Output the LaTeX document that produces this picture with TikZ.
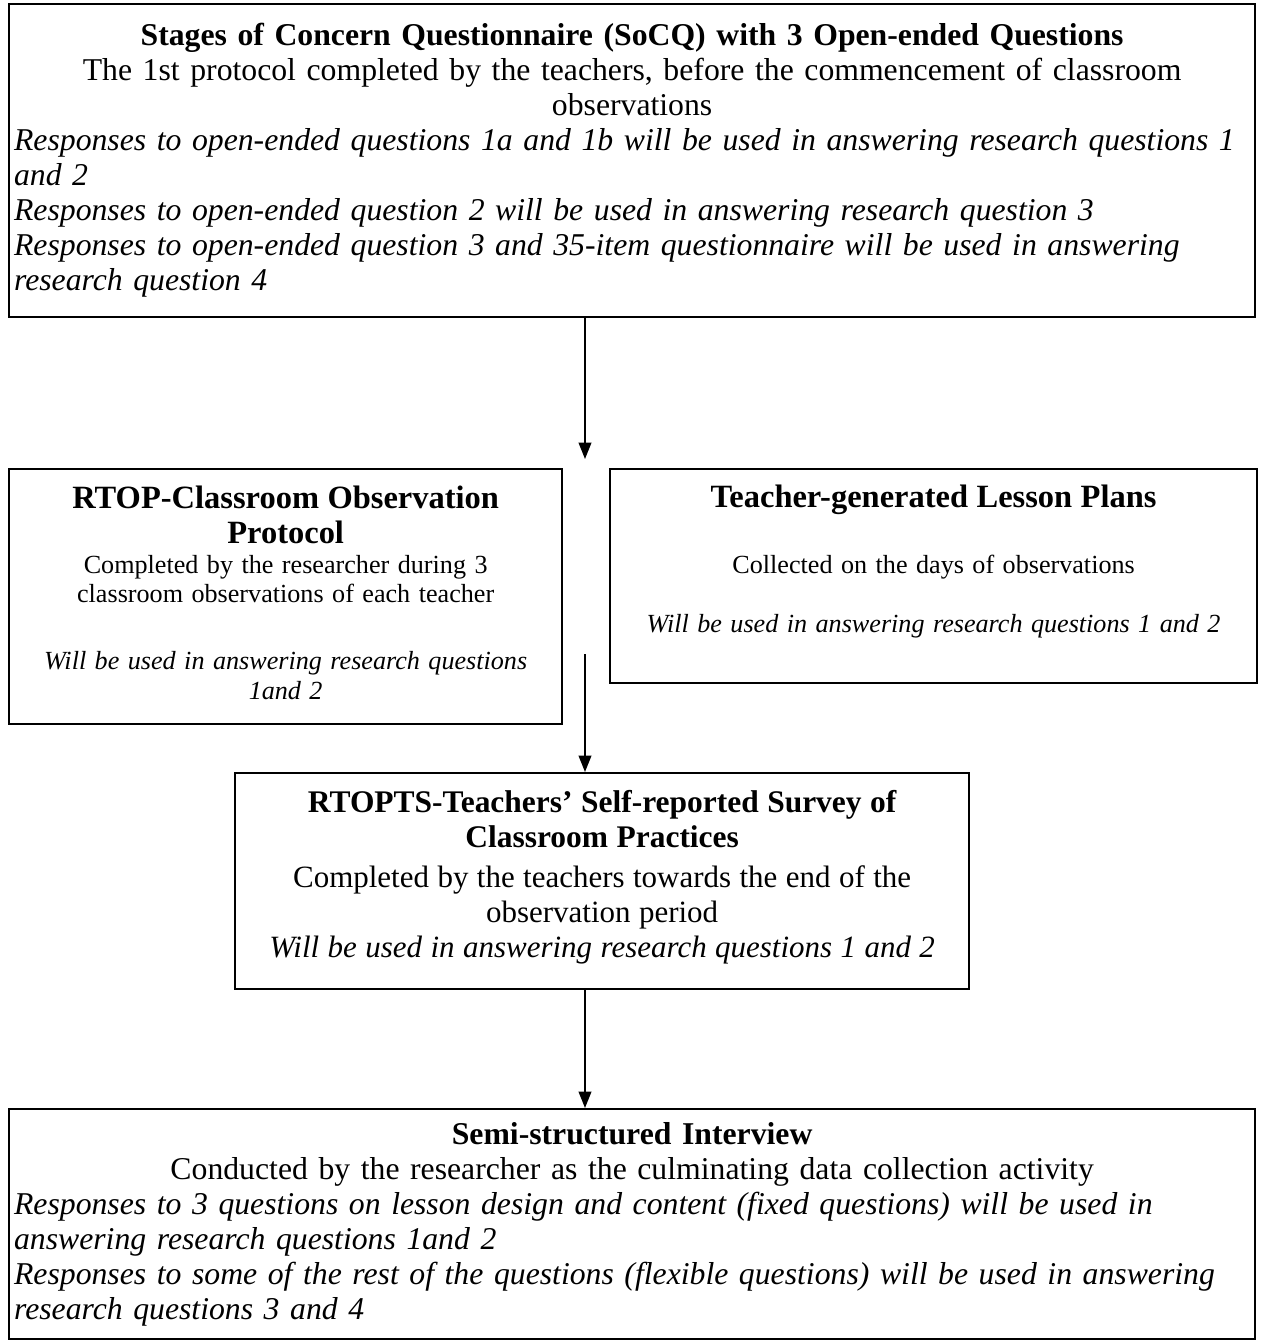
\documentclass[tikz,border=0pt]{standalone}
\usepackage{fontspec}
\setmainfont{Liberation Serif}
\usetikzlibrary{arrows.meta}

\begin{document}
\begin{tikzpicture}[x=0.394pt, y=-0.394pt, >={Triangle[width=5pt, length=6.5pt]}, box/.style={draw, line width=0.9pt, anchor=north west, inner xsep=1.5pt, inner ysep=0pt}, flow/.style={->, line width=0.8pt}]
	\useasboundingbox (0,0) rectangle (1262,1342);
	\node[box, minimum width=490.9pt, minimum height=123.3pt, text width=487pt, font=\fontsize{12.5}{13.8}\selectfont] (socq) at (8,3) {{\centering\textbf{Stages of Concern Questionnaire (SoCQ) with 3 Open-ended Questions}\\The 1st protocol completed by the teachers, before the commencement of classroom\\observations\par}{\raggedright\itshape Responses to open-ended questions 1a and 1b will be used in answering research questions 1\\and 2\\Responses to open-ended question 2 will be used in answering research question 3\\Responses to open-ended question 3 and 35-item questionnaire will be used in answering\\research question 4\par}};
	\node[box, minimum width=217.9pt, text width=214pt, text height=15.4pt, text depth=85.1pt] (rtop) at (8,468) {\centering{\fontsize{12.8}{13.8}\selectfont\bfseries RTOP-Classroom Observation\\Protocol\par}\vspace{0.4pt}{\fontsize{10.3}{11.5}\selectfont Completed by the researcher during 3\\classroom observations of each teacher\par}\vspace{14.5pt}{\fontsize{10.3}{11.8}\selectfont\itshape Will be used in answering research questions\\1and 2\par}};
	\node[box, minimum width=254.9pt, text width=251pt, text height=15pt, text depth=69.3pt] (plans) at (609,468) {\centering{\fontsize{12.8}{13.8}\selectfont\bfseries Teacher-generated Lesson Plans\par}\vspace{14.5pt}{\fontsize{10.3}{11.5}\selectfont Collected on the days of observations\par}\vspace{11.7pt}{\fontsize{10.3}{11.5}\selectfont\itshape Will be used in answering research questions 1 and 2\par}};
	\node[box, minimum width=289.2pt, text width=286pt, text height=15.4pt, text depth=69.7pt] (rtopts) at (234,772) {\centering{\fontsize{12.4}{13.8}\selectfont\bfseries RTOPTS-Teachers’ Self-reported Survey of\\Classroom Practices\par}\vspace{2pt}{\fontsize{12.2}{13.8}\selectfont Completed by the teachers towards the end of the\\observation period\\\itshape Will be used in answering research questions 1 and 2\par}};
	\node[box, minimum width=490.9pt, minimum height=90.6pt, text width=487pt, font=\fontsize{12.5}{13.8}\selectfont] (interview) at (8,1108) {{\centering\textbf{Semi-structured Interview}\\Conducted by the researcher as the culminating data collection activity\par}{\raggedright\itshape Responses to 3 questions on lesson design and content (fixed questions) will be used in\\answering research questions 1and 2\\Responses to some of the rest of the questions (flexible questions) will be used in answering\\research questions 3 and 4\par}};
	\coordinate (tip) at (585,459);
	\coordinate (from) at (585,654);
	\draw[flow] (socq.south -| tip) -- (tip);
	\draw[flow] (from) -- (rtopts.north -| from);
	\draw[flow] (rtopts.south -| from) -- (interview.north -| from);
\end{tikzpicture}
\end{document}
